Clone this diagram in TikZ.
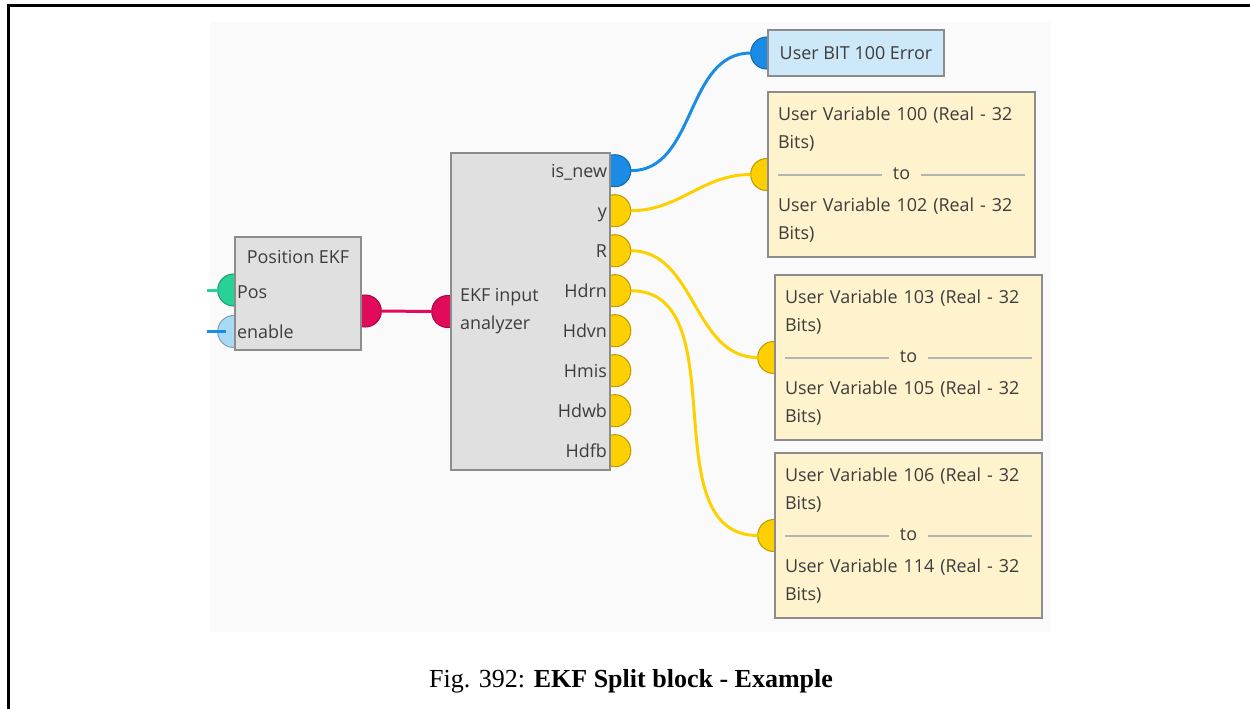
\documentclass[tikz,border=0pt]{standalone}
\usepackage{fontspec}
\setmainfont{Liberation Serif}
\newfontfamily\uifont{Open Sans}
\usepackage{xcolor}
\usetikzlibrary{positioning,calc,backgrounds}

\definecolor{panelbg}{HTML}{FAFAFA}
\definecolor{blockfill}{HTML}{E0E0E0}
\definecolor{blockline}{HTML}{8C8C8C}
\definecolor{varfill}{HTML}{FFF3CD}
\definecolor{bitfill}{HTML}{CDE8F8}
\definecolor{txtgray}{HTML}{3C3C3C}
\definecolor{sepgray}{HTML}{B4B4B4}
\definecolor{wireblue}{HTML}{1A8CE6}
\definecolor{wiregold}{HTML}{FFD000}
\definecolor{wirered}{HTML}{E20A5A}
\definecolor{wiregreen}{HTML}{28D296}
\definecolor{portsky}{HTML}{A8DAF6}

\newcommand{\sepline}{\color{sepgray}\leaders\hrule height 3.1pt depth -2.4pt\hfill}
\newcommand{\toline}{\leavevmode\hbox to \hsize{\sepline\hspace{0.22cm}{\color{txtgray}to}\hspace{0.22cm}\sepline}}

\begin{document}
\begin{tikzpicture}[
    x=0.02cm, y=-0.02cm,
    block/.style={rectangle, draw=blockline, line width=1.5pt, fill=#1, inner sep=0pt},
    block/.default=blockfill,
    lbl/.style={font=\uifont\fontsize{10.2}{15.9}\selectfont, text=txtgray, inner sep=0pt},
    varbox/.style={block=varfill, lbl, text width=4.94cm, inner sep=0.2cm, align=left, minimum height=3.3cm},
    port/.style={circle, minimum size=0.64cm, inner sep=0pt, outer sep=0pt, fill=#1, draw=#1!75!black, line width=0.6pt},
    wire/.style={line width=1.7pt, color=#1}
]
    \useasboundingbox (0,0) rectangle (1250,708);

    % Panel behind the diagram, page frame
    \begin{scope}[on background layer]
        \fill[panelbg] (210,22) rectangle (1051,632);
    \end{scope}
    \draw[line width=1.7pt] (8.3,712) |- (1254,5.5);

    % Blocks
    \node[block, minimum width=2.52cm, minimum height=2.26cm] (pekf) at (298,293.5) {};
    \node[block, minimum width=3.18cm, minimum height=6.34cm] (ana)  at (530.5,311.5) {};
    \node[block=bitfill, lbl, minimum width=3.52cm, minimum height=0.92cm] (bit) at (856,53)
        {User BIT 100 Error};
    \node[varbox] (uva) at (901.5,174.5)
        {User Variable 100 (Real - 32\\Bits)\\[2.2pt]\toline\\[2.2pt]User Variable 102 (Real - 32\\Bits)};
    \node[varbox] (uvb) at (908.5,357.5)
        {User Variable 103 (Real - 32\\Bits)\\[2.2pt]\toline\\[2.2pt]User Variable 105 (Real - 32\\Bits)};
    \node[varbox] (uvc) at (908.5,535.5)
        {User Variable 106 (Real - 32\\Bits)\\[2.2pt]\toline\\[2.2pt]User Variable 114 (Real - 32\\Bits)};

    % Block texts
    \node[lbl, anchor=base]      at ($(pekf.north)+(0,28)$)  {Position EKF};
    \node[lbl, anchor=base west] at ($(pekf.west)+(3,4.5)$)  {Pos};
    \node[lbl, anchor=base west] at ($(pekf.west)+(3,44.5)$) {enable};
    \node[lbl, align=left, anchor=west] at ($(ana.west)+(10,0)$) {EKF input\\analyzer};

    % Ports (half hidden behind the blocks)
    \begin{scope}[on background layer]
        \node[port=wiregreen] (ppos) at ($(pekf.west)+(0,-3.5)$) {};
        \node[port=portsky]   (pen)  at ($(pekf.west)+(0,38)$)   {};
        \node[port=wirered]   (pout) at ($(pekf.east)+(3,17.5)$) {};
        \node[port=wirered]   (pin)  at ($(ana.west)+(-2,0)$)    {};
        \node[port=wireblue]  (pnew) at ($(ana.north east)+(3.5,19)$) {};
        \node[port=wiregold, below=0.16cm of pnew] (py)    {};
        \node[port=wiregold, below=0.16cm of py]   (pR)    {};
        \node[port=wiregold, below=0.16cm of pR]   (pHdrn) {};
        \node[port=wiregold, below=0.16cm of pHdrn](pHdvn) {};
        \node[port=wiregold, below=0.16cm of pHdvn](pHmis) {};
        \node[port=wiregold, below=0.16cm of pHmis](pHdwb) {};
        \node[port=wiregold, below=0.16cm of pHdwb](pHdfb) {};
        \node[port=wireblue]  (pbit) at (bit.west) {};
        \node[port=wiregold]  (pva)  at (uva.west) {};
        \node[port=wiregold]  (pvb)  at (uvb.west) {};
        \node[port=wiregold]  (pvc)  at (uvc.west) {};
    \end{scope}

    % Output names
    \node[lbl, anchor=base east] at ($(pnew -| ana.east)+(-4,7)$)  {is\_new};
    \node[lbl, anchor=base east] at ($(py -| ana.east)+(-4,7)$)    {y};
    \node[lbl, anchor=base east] at ($(pR -| ana.east)+(-4,7)$)    {R};
    \node[lbl, anchor=base east] at ($(pHdrn -| ana.east)+(-4,7)$) {Hdrn};
    \node[lbl, anchor=base east] at ($(pHdvn -| ana.east)+(-4,7)$) {Hdvn};
    \node[lbl, anchor=base east] at ($(pHmis -| ana.east)+(-4,7)$) {Hmis};
    \node[lbl, anchor=base east] at ($(pHdwb -| ana.east)+(-4,7)$) {Hdwb};
    \node[lbl, anchor=base east] at ($(pHdfb -| ana.east)+(-4,7)$) {Hdfb};

    % Wires
    \coordinate[left=0.22cm of ppos.west] (posend);
    \coordinate[left=0.22cm of pen.west]  (enend);
    \draw[wire=wiregreen] (posend) -- (ppos.west);
    \draw[wire=wireblue]  (enend) -- ([xshift=0.16cm]pen.west);
    \draw[wire=wirered]   (pout.east) -- (pin.west);
    \draw[wire=wireblue]  (pnew.east)  to[out=0, in=180] (pbit.west);
    \draw[wire=wiregold]  (py.east)    to[out=0, in=180] (pva.west);
    \draw[wire=wiregold]  (pR.east)    to[out=0, in=180] (pvb.west);
    \draw[wire=wiregold]  (pHdrn.east) to[out=0, in=180] (pvc.west);

    % Caption
    \node[anchor=base, font=\fontsize{14.8}{17}\selectfont] (cap) at (631,687)
        {Fig. 392: \textbf{EKF Split block - Example}};
\end{tikzpicture}
\end{document}
